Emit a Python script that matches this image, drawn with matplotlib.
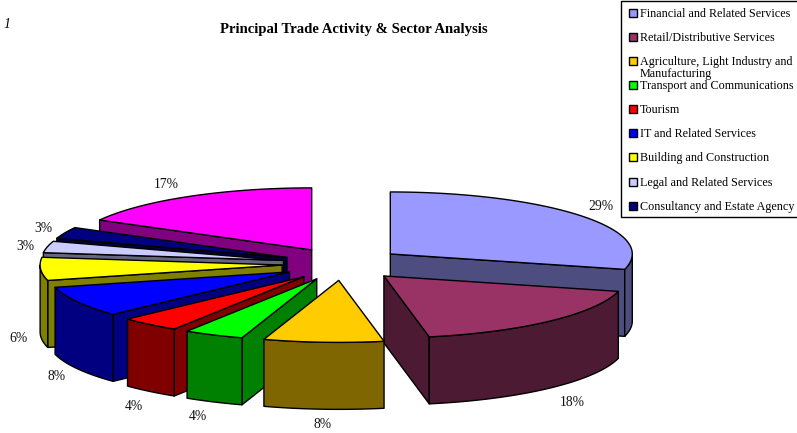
import numpy as np
import matplotlib
matplotlib.use("Agg")
import matplotlib.pyplot as plt
from matplotlib.patches import Polygon, Rectangle

plt.rcParams['font.family'] = ['Liberation Serif', 'DejaVu Serif']

categories = ["Financial and Related Services", "Retail/Distributive Services",
              "Agriculture, Light Industry and\nManufacturing", "Transport and Communications",
              "Tourism", "IT and Related Services", "Building and Construction",
              "Legal and Related Services", "Consultancy and Estate Agency"]
values = [29, 18, 8, 4, 4, 8, 6, 3, 3, 17]
top_colors = ["#9999FF", "#993366", "#FFCC00", "#00FF00", "#FF0000",
              "#0000FF", "#FFFF00", "#CCCCFF", "#000080", "#FF00FF"]
side_colors = ["#4D4D80", "#4D1A33", "#806600", "#008000", "#800000",
               "#000080", "#808000", "#666680", "#000040", "#800080"]
title = "Principal Trade Activity & Sector Analysis"

# Layout
CX, CY, RX, RY, DEPTH, EXPLODE, EXPLODE_Y = 342.5, 264, 242, 62, 67, 60.5, 16.4
label_xy = [(601, 206), (572, 402), (323, 425), (198, 417), (134, 406),
            (57, 377), (19, 338), (25, 246), (43, 229), (166, 184)]
legend_y = [13, 37, 61, 85, 109, 133, 157, 182, 206]
LW = 1.0

fig = plt.figure(figsize=(7.97, 4.33), dpi=100)
ax = fig.add_axes([0, 0, 1, 1])
ax.set_xlim(0, 797)
ax.set_ylim(433, 0)
ax.axis("off")

total = sum(values)
edges = np.concatenate([[0], np.cumsum(values)]) / total * 360.0


def rim(apex, a0, a1, n=60):
    t = np.radians(np.linspace(a0, a1, n))
    return np.column_stack([apex[0] + RX * np.sin(t), apex[1] - RY * np.cos(t)])


def extrude(pts):
    return np.vstack([pts, (pts + [0, DEPTH])[::-1]])


def face(pts, color, z):
    ax.add_patch(Polygon(pts, closed=True, facecolor=color, edgecolor="black",
                         linewidth=LW, joinstyle="round", zorder=z))


draw_order = [0, 1, 9, 8, 7, 6, 5, 4, 3, 2]
for z, i in enumerate(draw_order):
    a0, a1 = edges[i], edges[i + 1]
    mid = np.radians((a0 + a1) / 2)
    apex = np.array([CX + EXPLODE * np.sin(mid), CY - EXPLODE_Y * np.cos(mid)])
    zz = 2 + z
    if np.sin(np.radians(a0)) < 0:
        p = rim(apex, a0, a0, 1)
        face(extrude(np.vstack([apex, p])), side_colors[i], zz)
    if np.sin(np.radians(a1)) > 0:
        p = rim(apex, a1, a1, 1)
        face(extrude(np.vstack([apex, p])), side_colors[i], zz)
    lo, hi = max(a0, 90), min(a1, 270)
    if hi > lo:
        face(extrude(rim(apex, lo, hi)), side_colors[i], zz)
    face(np.vstack([apex, rim(apex, a0, a1)]), top_colors[i], zz)

for v, (x, y) in zip(values, label_xy):
    ax.text(x, y, f"{v}%", ha="center", va="center", fontsize=9.8, color="#111111", zorder=30)

ax.text(354, 29.5, title, ha="center", va="center", fontsize=10.6, fontweight="bold", zorder=30)
ax.text(7, 24, "1", ha="center", va="center", fontsize=10, style="italic", zorder=30)

ax.add_patch(Rectangle((621, 0.5), 185, 216, facecolor="white", edgecolor="black",
                       linewidth=LW, zorder=31))
for name, y, c in zip(categories, legend_y, top_colors):
    ax.add_patch(Rectangle((629, y - 4), 8, 8, facecolor=c, edgecolor="black",
                           linewidth=LW, zorder=32))
    lines = name.split("\n")
    ax.text(640, y + 1, lines[0], ha="left", va="center", fontsize=8.7, zorder=32)
    if len(lines) > 1:
        ax.text(640, y + 13, lines[1], ha="left", va="center", fontsize=8.7, zorder=32)

fig.savefig("out.png", dpi=100)
